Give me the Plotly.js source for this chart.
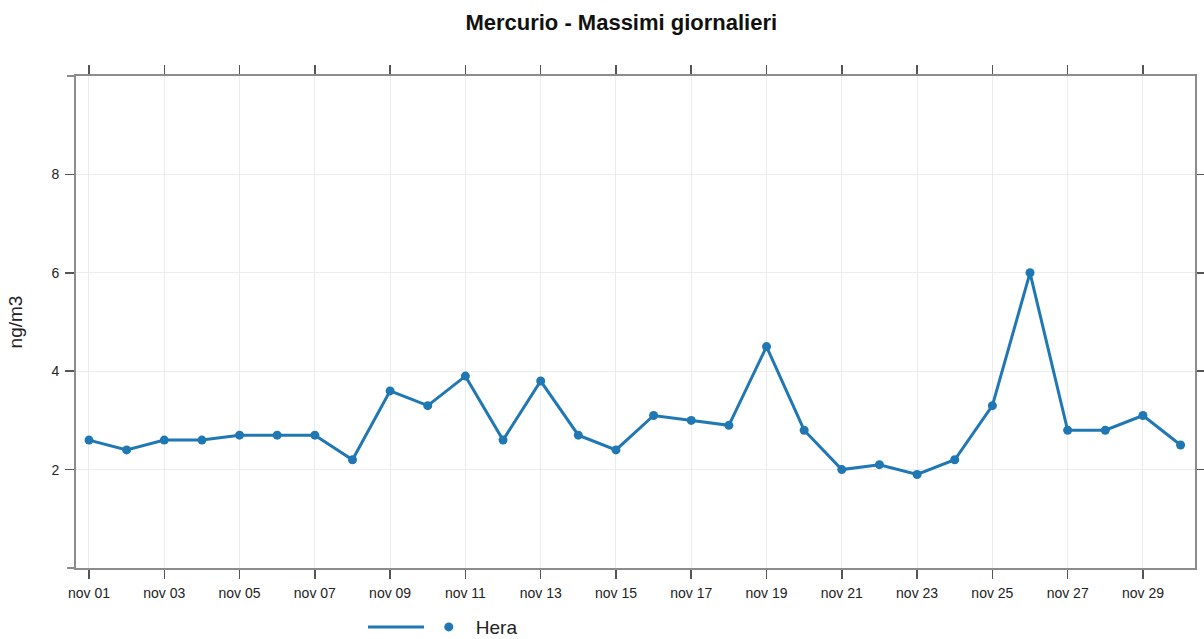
<!DOCTYPE html>
<html>
<head>
<meta charset="utf-8">
<script src="https://cdn.plot.ly/plotly-3.0.1.min.js"></script>
<style>html,body{margin:0;padding:0;background:#fff;}#chart{width:1204px;height:639px;}</style>
</head>
<body>
<div id="chart"></div>
<script>
const dates = ['2023-11-01','2023-11-02','2023-11-03','2023-11-04','2023-11-05','2023-11-06','2023-11-07','2023-11-08','2023-11-09','2023-11-10',
  '2023-11-11','2023-11-12','2023-11-13','2023-11-14','2023-11-15','2023-11-16','2023-11-17','2023-11-18','2023-11-19','2023-11-20',
  '2023-11-21','2023-11-22','2023-11-23','2023-11-24','2023-11-25','2023-11-26','2023-11-27','2023-11-28','2023-11-29','2023-11-30'];
const hera = [2.6,2.4,2.6,2.6,2.7,2.7,2.7,2.2,3.6,3.3,3.9,2.6,3.8,2.7,2.4,3.1,3.0,2.9,4.5,2.8,2.0,2.1,1.9,2.2,3.3,6.0,2.8,2.8,3.1,2.5];
const tickVals = ['2023-11-01','2023-11-03','2023-11-05','2023-11-07','2023-11-09','2023-11-11','2023-11-13','2023-11-15','2023-11-17','2023-11-19','2023-11-21','2023-11-23','2023-11-25','2023-11-27','2023-11-29'];
const tickText = ['nov 01','nov 03','nov 05','nov 07','nov 09','nov 11','nov 13','nov 15','nov 17','nov 19','nov 21','nov 23','nov 25','nov 27','nov 29'];
const yTicks = [2,4,6,8];
const color = '#1f77b4';
const FONT = 'Liberation Sans, Arial, sans-serif';

const traces = [
  {x: dates, y: hera, type:'scatter', mode:'lines', name:'', line:{color:color, width:3}, showlegend:true, legend:'legend', hoverinfo:'skip'},
  {x: dates, y: hera, type:'scatter', mode:'markers', name:'Hera', marker:{color:color, size:9}, showlegend:true, legend:'legend2'}
];

const axisCommon = {
  showline:true, linecolor:'#8c8c8c', linewidth:2, mirror:'ticks',
  ticks:'outside', ticklen:9, tickwidth:1.5, tickcolor:'#555',
  showgrid:true, gridcolor:'#ececec', gridwidth:1, zeroline:false,
  tickfont:{family:FONT, size:14, color:'#222'}
};

const layout = {
  width:1204, height:639,
  margin:{l:76, r:9, t:76, b:71, autoexpand:false},
  paper_bgcolor:'#fff', plot_bgcolor:'#fff',
  font:{family:FONT, color:'#222'},
  title:{text:'<b>Mercurio - Massimi giornalieri</b>', x:0.516, xanchor:'center', y:0.965, yanchor:'middle', xref:'container', yref:'container',
    font:{family:FONT, size:22, color:'#111'}},
  xaxis: Object.assign({}, axisCommon, {
    type:'date', range:['2023-10-31 15:43','2023-11-30 09:12'],
    tickmode:'array', tickvals:tickVals, ticktext:tickText, ticklabelstandoff:2
  }),
  yaxis: Object.assign({}, axisCommon, {
    range:[0,10], tickmode:'array', tickvals:yTicks, ticktext:yTicks.map(String), ticklabelstandoff:3,
    title:{text:'ng/m3', font:{family:FONT, size:19, color:'#222'}, standoff:24}
  }),
  shapes:[
    {type:'line', xref:'paper', yref:'paper', x0:-0.008, x1:0, y0:0, y1:0, line:{color:'#8c8c8c', width:2}},
    {type:'line', xref:'paper', yref:'paper', x0:-0.008, x1:0, y0:1, y1:1, line:{color:'#8c8c8c', width:2}}
  ],
  showlegend:true,
  legend:{orientation:'h', x:0.2565, xanchor:'left', y:-0.12, yanchor:'middle',
    font:{family:FONT, size:19, color:'#222'}, itemwidth:56, bgcolor:'rgba(0,0,0,0)'},
  legend2:{orientation:'h', x:0.309, xanchor:'left', y:-0.12, yanchor:'middle',
    font:{family:FONT, size:19, color:'#222'}, itemwidth:44, bgcolor:'rgba(0,0,0,0)'}
};

Plotly.newPlot('chart', traces, layout, {displayModeBar:false, staticPlot:true});
</script>
</body>
</html>
